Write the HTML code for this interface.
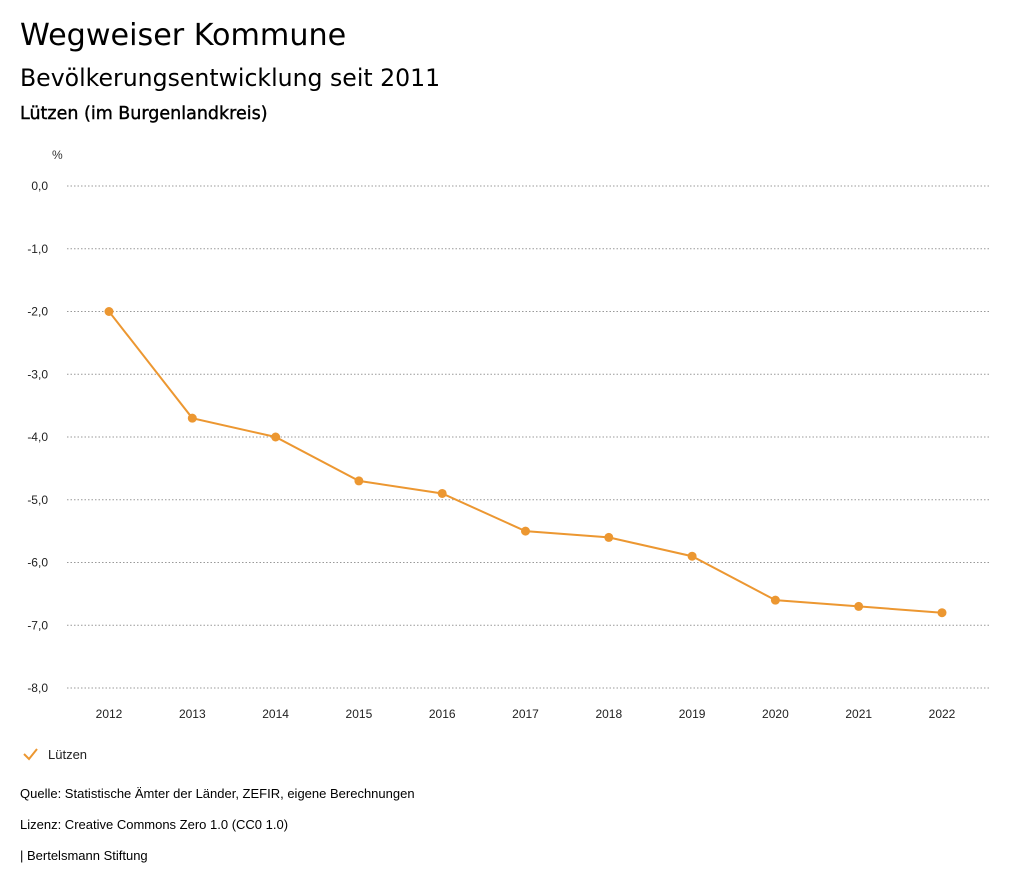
<!DOCTYPE html>
<html><head><meta charset="utf-8"><style>
body{margin:0;background:#fff;width:1024px;height:888px;overflow:hidden;font-family:"Liberation Sans",sans-serif;color:#000}
.t{position:absolute;left:20px;white-space:nowrap}
.d{font-family:"DejaVu Sans",sans-serif}
</style></head><body>
<div class="t d" style="top:18px;font-size:30.2px">Wegweiser Kommune</div>
<div class="t d" style="top:64px;font-size:23.6px">Bevölkerungsentwicklung seit 2011</div>
<div class="t d" style="top:104px;font-size:17.5px;-webkit-text-stroke:0.4px #000">Lützen (im Burgenlandkreis)</div>
<svg id="c" width="1024" height="888" style="position:absolute;left:0;top:0"></svg>
<div class="t" style="top:786px;font-size:13px">Quelle: Statistische Ämter der Länder, ZEFIR, eigene Berechnungen</div>
<div class="t" style="top:817px;font-size:13px">Lizenz: Creative Commons Zero 1.0 (CC0 1.0)</div>
<div class="t" style="top:848px;font-size:13px">| Bertelsmann Stiftung</div>
<script>
const years=[2012,2013,2014,2015,2016,2017,2018,2019,2020,2021,2022];
const values=[-2.0,-3.7,-4.0,-4.7,-4.9,-5.5,-5.6,-5.9,-6.6,-6.7,-6.8];
const yTicks=[0,-1,-2,-3,-4,-5,-6,-7,-8];
const seriesName="Lützen";
const svg=document.getElementById('c');const NS="http://www.w3.org/2000/svg";
const x=v=>109+(v-2012)*83.3;
const y=v=>186-v*62.75;
function mk(t,a,p){const e=document.createElementNS(NS,t);for(const k in a)e.setAttribute(k,a[k]);(p||svg).appendChild(e);return e;}
const pu=mk('text',{x:52,y:159,'font-size':12,fill:'#333'});pu.textContent='%';


yTicks.forEach(v=>{
 const l=mk('line',{x1:67,x2:990,y1:y(v),y2:y(v),stroke:'#999','stroke-dasharray':'1.5,2','stroke-width':1});
 
 
 const t=mk('text',{x:48,y:y(v)+4,'font-size':12,'text-anchor':'end',fill:'#222'});
 t.textContent=v.toFixed(1).replace('.',',');
 
 
});
years.forEach(yr=>{
 const t=mk('text',{x:x(yr),y:718,'font-size':12,'text-anchor':'middle',fill:'#222'});
 t.textContent=yr;
 
 
});
const pl=mk('polyline',{points:years.map((yr,i)=>x(yr)+','+y(values[i])).join(' '),fill:'none',stroke:'#ec9731','stroke-width':2});


years.forEach((yr,i)=>{
 const c=mk('circle',{cx:x(yr),cy:y(values[i]),r:4.5,fill:'#ec9731'});
 
 
});
const lg=mk('path',{d:'M24 754 L29 759 L37 749',fill:'none',stroke:'#ec9731','stroke-width':2});


const lt=mk('text',{x:48,y:759,'font-size':13,fill:'#222'});lt.textContent=seriesName;


</script>
</body></html>
